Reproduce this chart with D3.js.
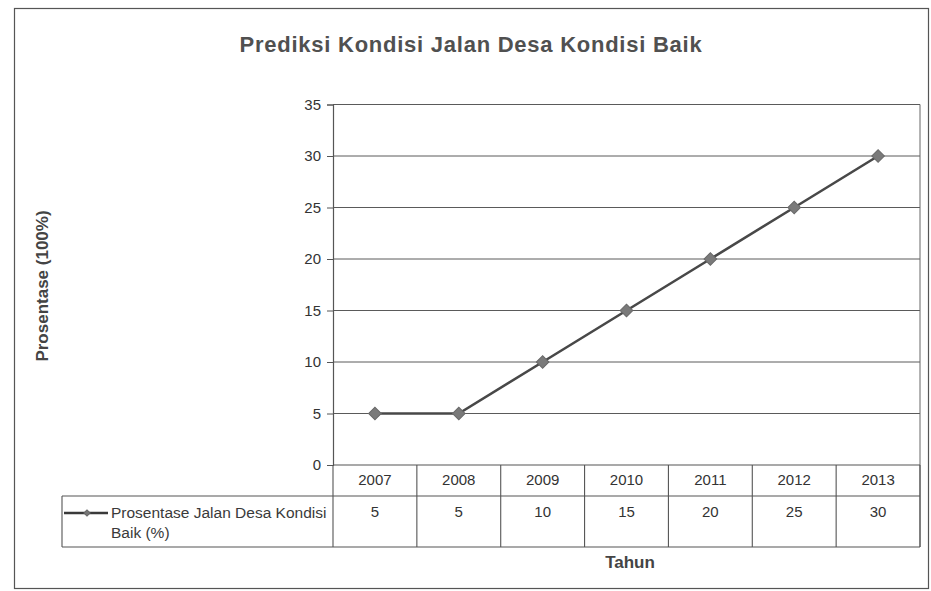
<!DOCTYPE html>
<html>
<head>
<meta charset="utf-8">
<script src="https://cdn.jsdelivr.net/npm/d3@7"></script>
<style>
  html, body { margin: 0; padding: 0; background: #fff; }
  svg { display: block; font-family: "Liberation Sans", Arial, sans-serif; }
</style>
</head>
<body>
<svg id="chart" width="931" height="591"></svg>
<script>
// Data
const years = ["2007", "2008", "2009", "2010", "2011", "2012", "2013"];
const values = [5, 5, 10, 15, 20, 25, 30];
const yTicks = [0, 5, 10, 15, 20, 25, 30, 35];
const seriesName = ["Prosentase Jalan Desa Kondisi", "Baik (%)"];
const chartTitle = "Prediksi Kondisi Jalan Desa Kondisi Baik";
const yTitle = "Prosentase (100%)";
const xTitle = "Tahun";

const svg = d3.select("#chart");
const ink = "#484848";

// Outer frame
svg.append("rect")
  .attr("x", 14.5).attr("y", 8.5).attr("width", 914).attr("height", 580)
  .attr("fill", "none").attr("stroke", "#555").attr("stroke-width", 1.2);

// Plot geometry
const plot = { left: 333, right: 920, top: 104.5, bottom: 465 };
const table = { left: 62, row1: 496, row2: 547 };

const x = d3.scaleBand().domain(years).range([plot.left, plot.right]);
const y = d3.scaleLinear().domain([0, 35]).range([plot.bottom, plot.top]);
const cx = (i) => x(years[i]) + x.bandwidth() / 2;

// Title
svg.append("text")
  .attr("x", 471).attr("y", 52)
  .attr("text-anchor", "middle")
  .attr("font-size", 22)
  .attr("font-weight", "bold")
  .attr("letter-spacing", 0.75)
  .attr("fill", "#505050")
  .text(chartTitle);

// Horizontal gridlines
svg.append("g")
  .selectAll("line")
  .data(yTicks.filter(d => d > 0))
  .join("line")
  .attr("x1", plot.left).attr("x2", plot.right)
  .attr("y1", d => y(d)).attr("y2", d => y(d))
  .attr("stroke", "#5a5a5a").attr("stroke-width", 1);

// Right border of the plot area
svg.append("line")
  .attr("x1", plot.right).attr("x2", plot.right)
  .attr("y1", plot.top).attr("y2", table.row2)
  .attr("stroke", "#666").attr("stroke-width", 1);

// Y axis
const yAxis = svg.append("g")
  .attr("transform", `translate(${plot.left},0)`)
  .call(d3.axisLeft(y).tickValues(yTicks).tickSize(6).tickPadding(6));
yAxis.select(".domain").attr("stroke", "#555").attr("stroke-width", 1.2);
yAxis.selectAll(".tick line").attr("stroke", "#555");
yAxis.selectAll(".tick text")
  .attr("font-size", 15).attr("fill", "#333")
  .attr("font-family", "'Liberation Sans', Arial, sans-serif");

// Y axis title
svg.append("text")
  .attr("transform", "translate(48,286) rotate(-90)")
  .attr("text-anchor", "middle")
  .attr("font-size", 17).attr("font-weight", "bold")
  .attr("fill", "#444")
  .text(yTitle);

// Data table: horizontal rules
const hRules = [
  { y: plot.bottom, x1: plot.left, x2: plot.right },
  { y: table.row1, x1: table.left, x2: plot.right },
  { y: table.row2, x1: table.left, x2: plot.right }
];
svg.append("g")
  .selectAll("line")
  .data(hRules)
  .join("line")
  .attr("x1", d => d.x1).attr("x2", d => d.x2)
  .attr("y1", d => d.y).attr("y2", d => d.y)
  .attr("stroke", "#555").attr("stroke-width", 1.2);

// Data table: vertical rules at category boundaries
svg.append("g")
  .selectAll("line")
  .data(years.map(d => x(d)).concat([plot.right]))
  .join("line")
  .attr("x1", d => d).attr("x2", d => d)
  .attr("y1", plot.bottom).attr("y2", table.row2)
  .attr("stroke", "#555").attr("stroke-width", 1.1);

// Legend cell left border
svg.append("line")
  .attr("x1", table.left).attr("x2", table.left)
  .attr("y1", table.row1).attr("y2", table.row2)
  .attr("stroke", "#555").attr("stroke-width", 1.1);

// Year labels
svg.append("g")
  .selectAll("text")
  .data(years)
  .join("text")
  .attr("x", (d, i) => cx(i))
  .attr("y", 485)
  .attr("text-anchor", "middle")
  .attr("font-size", 15).attr("fill", "#333")
  .text(d => d);

// Value labels
svg.append("g")
  .selectAll("text")
  .data(values)
  .join("text")
  .attr("x", (d, i) => cx(i))
  .attr("y", 517)
  .attr("text-anchor", "middle")
  .attr("font-size", 15).attr("fill", "#333")
  .text(d => d);

// Legend key inside the table
svg.append("line")
  .attr("x1", 64).attr("x2", 108)
  .attr("y1", 513).attr("y2", 513)
  .attr("stroke", "#3a3a3a").attr("stroke-width", 2.4);
svg.append("path")
  .attr("transform", "translate(87,513) rotate(45)")
  .attr("d", d3.symbol(d3.symbolSquare, 20)())
  .attr("fill", "#777").attr("stroke", "#666");
svg.append("g")
  .selectAll("text")
  .data(seriesName)
  .join("text")
  .attr("x", 111)
  .attr("y", (d, i) => 518 + i * 20)
  .attr("font-size", 15.5).attr("fill", "#3a3a3a")
  .text(d => d);

// Series line
const line = d3.line()
  .x((d, i) => cx(i))
  .y(d => y(d));
svg.append("path")
  .datum(values)
  .attr("d", line)
  .attr("fill", "none")
  .attr("stroke", ink).attr("stroke-width", 2.6);

// Diamond markers
svg.append("g")
  .selectAll("path")
  .data(values)
  .join("path")
  .attr("transform", (d, i) => `translate(${cx(i)},${y(d)}) rotate(45)`)
  .attr("d", d3.symbol(d3.symbolSquare, 80)())
  .attr("fill", "#7a7a7a").attr("stroke", "#6a6a6a").attr("stroke-width", 1);

// X axis title
svg.append("text")
  .attr("x", 630).attr("y", 568)
  .attr("text-anchor", "middle")
  .attr("font-size", 17).attr("font-weight", "bold")
  .attr("fill", "#444")
  .text(xTitle);
</script>
</body>
</html>
